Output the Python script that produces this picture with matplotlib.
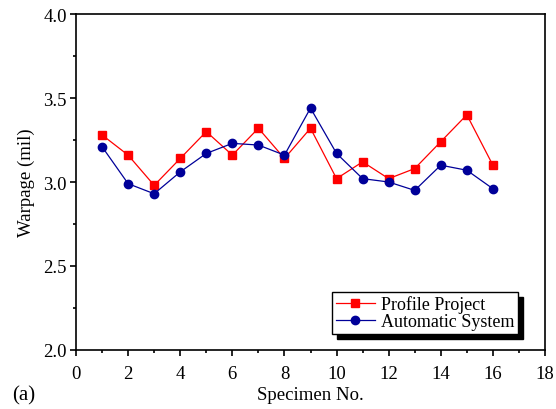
import matplotlib
matplotlib.use("Agg")
import matplotlib.pyplot as plt
from matplotlib.ticker import MultipleLocator

plt.rcParams['font.family'] = ['Liberation Serif', 'DejaVu Serif']

# data
specimen = list(range(1, 17))
profile_project = [3.28, 3.16, 2.98, 3.14, 3.30, 3.16, 3.32, 3.14,
                   3.32, 3.02, 3.12, 3.02, 3.08, 3.24, 3.40, 3.10]
automatic_system = [3.21, 2.99, 2.93, 3.06, 3.17, 3.23, 3.22, 3.16,
                    3.44, 3.17, 3.02, 3.00, 2.95, 3.10, 3.07, 2.96]

fig = plt.figure(figsize=(5.56, 4.10), dpi=100)
ax = fig.add_axes([76/556, 1 - 351/410, (545-76)/556, (351-15)/410])

ax.plot(specimen, profile_project, '-s', color='#ff0000', lw=0.9,
        markersize=5.5, label='Profile Project')
ax.plot(specimen, automatic_system, '-o', color='#000099', lw=0.9,
        markersize=6, label='Automatic System')

ax.set_xlim(0, 18)
ax.set_ylim(2.0, 4.0)
ax.xaxis.set_major_locator(MultipleLocator(2))
ax.xaxis.set_minor_locator(MultipleLocator(1))
ax.yaxis.set_major_locator(MultipleLocator(0.5))
ax.yaxis.set_minor_locator(MultipleLocator(0.25))
ax.tick_params(which='both', direction='out', labelsize=13.5, width=1.2)
ax.tick_params(which='major', length=4.5, pad=2)
ax.tick_params(which='minor', length=2.5)
ax.tick_params(axis='x', which='major', pad=6)
for s in ax.spines.values():
    s.set_linewidth(1.2)

ax.set_xlabel('Specimen No.', fontsize=13.5, labelpad=3)
ax.set_ylabel('Warpage (mil)', fontsize=13.5, labelpad=6)

leg = ax.legend(loc='lower right', bbox_to_anchor=(0.942, 0.048), fontsize=13,
                frameon=True, fancybox=False, edgecolor='k',
                shadow={'color': 'k', 'alpha': 1, 'ox': 4, 'oy': -4},
                handlelength=2.2, handletextpad=0.3, borderpad=0.2,
                labelspacing=0.0, borderaxespad=0)
leg.get_frame().set_linewidth(1.0)

fig.text(12/556, 1 - 396/410, '(a)', fontsize=15, va='center', ha='left')

fig.savefig('out.png', dpi=100)
